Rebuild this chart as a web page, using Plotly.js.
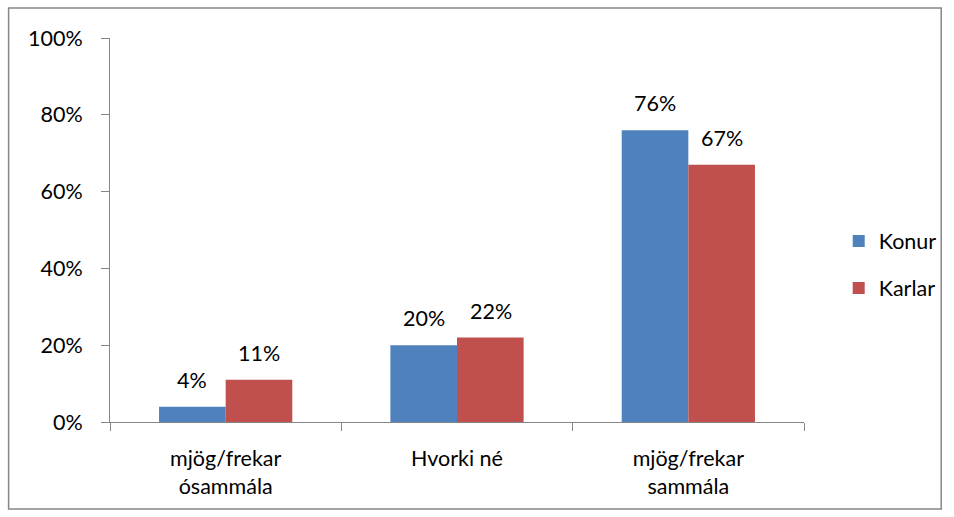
<!DOCTYPE html>
<html><head><meta charset="utf-8">
<script src="https://cdn.plot.ly/plotly-3.0.1.min.js"></script>
<style>html,body{margin:0;padding:0;background:#fff}#chart{width:954px;height:517px}</style>
</head><body><div id="chart"></div>
<script>
const categories = ["mjög/frekar<br>ósammála", "Hvorki né", "mjög/frekar<br>sammála"];
const konur = [0.04, 0.20, 0.76];
const karlar = [0.11, 0.22, 0.67];
const seriesNames = ["Konur", "Karlar"];
const seriesColors = ["#4F81BD", "#C0504D"];
const yTickVals = [0, 0.2, 0.4, 0.6, 0.8, 1.0];
const yTickText = ["0%", "20%", "40%", "60%", "80%", "100%"];

const font = {family: "Lato, 'Open Sans', sans-serif", size: 21.5, color: "#000"};
const pct = v => Math.round(v * 100) + "%";

const traces = [konur, karlar].map((vals, i) => ({
  type: "bar", name: seriesNames[i], x: categories, y: vals,
  marker: {color: seriesColors[i]}, legendgroup: "g" + i, hoverinfo: "none"
}));

// data labels placed above each bar (bar half-width offset)
const halfBar = 33.5;
const annotations = [];
[konur, karlar].forEach((vals, i) => {
  vals.forEach((v, j) => {
    annotations.push({x: categories[j], y: v, xref: "x", yref: "y", text: pct(v),
      showarrow: false, yanchor: "bottom", xanchor: "center",
      xshift: (i === 0 ? -1 : 1) * halfBar, yshift: 12, font: font});
  });
});

const layout = {
  width: 954, height: 517,
  margin: {l: 110, r: 146, t: 38, b: 95, pad: 0},
  paper_bgcolor: "#fff", plot_bgcolor: "#fff",
  font: font,
  barmode: "group", bargap: 0.424, bargroupgap: 0,
  showlegend: true,
  legend: {x: 1.05, xanchor: "left", y: 0.41, yanchor: "middle", font: font,
           tracegroupgap: 16, traceorder: "grouped", itemwidth: 30, bgcolor: "rgba(0,0,0,0)"},
  xaxis: {type: "category", showline: true, linecolor: "#868686", linewidth: 1,
          ticks: "outside", tickson: "boundaries", ticklen: 8, tickcolor: "#868686",
          showgrid: false, tickfont: font, zeroline: false, ticklabelstandoff: 17},
  yaxis: {range: [0, 1], tickvals: yTickVals, ticktext: yTickText, showline: true,
          linecolor: "#868686", linewidth: 1, ticks: "outside", ticklen: 8, tickcolor: "#868686",
          showgrid: false, zeroline: false, tickfont: font, ticklabelstandoff: 14},
  annotations: annotations,
  shapes: [{type: "rect", xref: "paper", yref: "paper",
            x0: -0.1461, x1: 1.1977, y0: -0.2266, y1: 1.078,
            line: {color: "#868686", width: 1.5}, fillcolor: "rgba(0,0,0,0)"}]
};

Plotly.newPlot("chart", traces, layout, {displayModeBar: false, staticPlot: true});
</script></body></html>
